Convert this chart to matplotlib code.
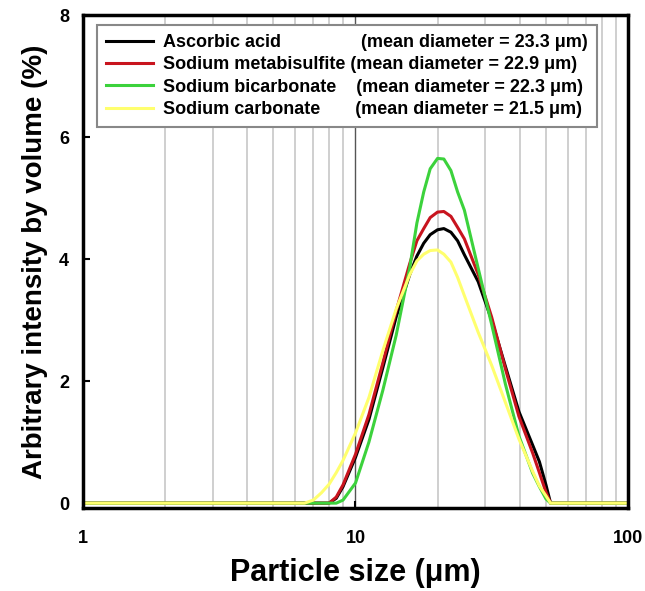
import matplotlib
matplotlib.use("Agg")
import matplotlib.pyplot as plt

plt.rcParams['font.family'] = ['Liberation Sans', 'DejaVu Sans']
plt.rcParams['font.weight'] = 'bold'

# particle size grid (um) shared by all four distributions
size_um = [1, 6.5, 7.0, 7.5, 8.0, 8.5, 9.0, 10, 11.2, 12.6, 14.1, 15.8, 16.8, 17.8,
           18.8, 20, 21.1, 22.4, 23.7, 25.1, 28.2, 31.6, 35.5, 39.8, 44.7, 47.3,
           50, 52, 100]

ascorbic = [0, 0, 0, 0, 0, 0.08, 0.27, 0.75, 1.37, 2.22, 3.05, 3.74, 4.05, 4.26,
            4.40, 4.48, 4.50, 4.44, 4.30, 4.07, 3.63, 3.00, 2.24, 1.50, 0.95, 0.68,
            0.30, 0, 0]
metabisulfite = [0, 0, 0, 0, 0, 0.10, 0.30, 0.80, 1.45, 2.30, 3.15, 3.92, 4.30, 4.50,
                 4.68, 4.77, 4.78, 4.70, 4.52, 4.33, 3.75, 3.05, 2.20, 1.42, 0.82, 0.50,
                 0.18, 0, 0]
bicarbonate = [0, 0, 0, 0, 0, 0, 0.05, 0.33, 1.00, 1.85, 2.75, 3.85, 4.59, 5.10,
               5.48, 5.65, 5.64, 5.45, 5.10, 4.80, 3.85, 2.93, 1.95, 1.10, 0.49, 0.27,
               0.07, 0, 0]
carbonate = [0, 0, 0.05, 0.17, 0.31, 0.50, 0.70, 1.15, 1.73, 2.50, 3.18, 3.74, 3.97, 4.08,
             4.14, 4.15, 4.08, 3.95, 3.70, 3.40, 2.80, 2.26, 1.65, 1.05, 0.52, 0.28,
             0.12, 0, 0]

names = ["Ascorbic acid", "Sodium metabisulfite", "Sodium bicarbonate", "Sodium carbonate"]
gaps = [16, 1, 4, 7]
mean_diam = [23.3, 22.9, 22.3, 21.5]
colors = ["#000000", "#c8141e", "#3cd23c", "#ffff6e"]

fig = plt.figure(figsize=(6.45, 5.91), dpi=100)
ax = fig.add_axes([0.1287, 0.1404, 0.8449, 0.8342])

for ys, name, gap, d, c in zip([ascorbic, metabisulfite, bicarbonate, carbonate],
                               names, gaps, mean_diam, colors):
    label = name + " " * gap + "(mean diameter = %.1f \u03bcm)" % d
    ax.plot(size_um, ys, color=c, lw=2.2, label=label)

ax.set_xscale("log")
ax.set_xlim(1, 100)
ax.set_ylim(-0.08, 8)

ax.set_xticks([1, 10, 100])
ax.set_xticklabels(["1", "10", "100"])
ax.set_yticks([0, 2, 4, 6, 8])
ax.tick_params(axis="both", which="major", direction="in", length=5, width=1.5,
               labelsize=13)
ax.tick_params(axis="x", which="major", pad=16)
ax.tick_params(axis="y", which="major", pad=10)
ax.tick_params(axis="x", which="minor", length=0)

ax.grid(True, axis="x", which="minor", color="#cccccc", lw=1.3)
ax.grid(True, axis="x", which="major", color="#555555", lw=1.0)
ax.set_axisbelow(True)

for sp in ax.spines.values():
    sp.set_linewidth(2.5)

ax.set_xlabel("Particle size (\u03bcm)", fontsize=22, fontweight="bold", labelpad=8)
ax.set_ylabel("Arbitrary intensity by volume (%)", fontsize=20, fontweight="bold",
              labelpad=8)

leg = ax.legend(loc="upper left", bbox_to_anchor=(0.026, 0.98), borderaxespad=0,
                fontsize=13, handlelength=2.6, handletextpad=0.55,
                labelspacing=0.3, borderpad=0.5, fancybox=False,
                framealpha=1, edgecolor="#888888")
leg.get_frame().set_linewidth(1.5)

fig.savefig("out.png", dpi=100)
